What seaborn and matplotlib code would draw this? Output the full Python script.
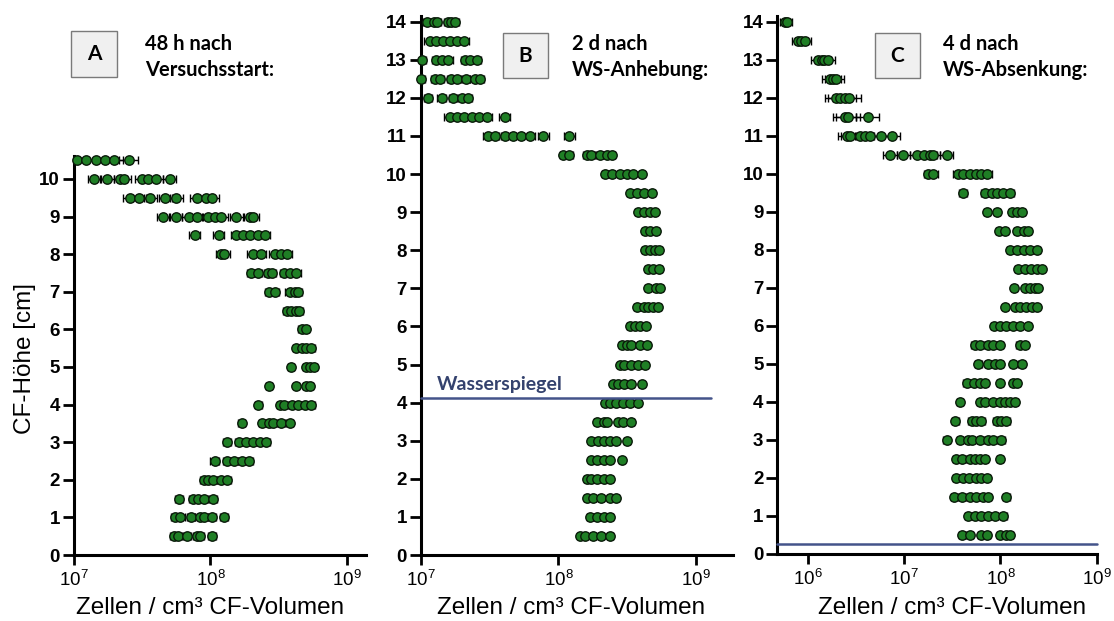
import matplotlib
matplotlib.use("Agg")
import matplotlib.pyplot as plt
import numpy as np
import pandas as pd
import seaborn as sns
from matplotlib.patches import Rectangle

# ---------------------------------------------------------------------------
# Cell densities (log10 cells per cm³ CF volume) per height, one list per row
# ---------------------------------------------------------------------------
heights_A = [10.5, 10, 9.5, 9, 8.5, 8, 7.5, 7, 6.5, 6, 5.5, 5, 4.5, 4, 3.5, 3,
             2.5, 2, 1.5, 1, 0.5]
cells_A_log10 = [
    [7.02, 7.09, 7.16, 7.23, 7.29, 7.40],
    [7.15, 7.24, 7.34, 7.37, 7.50, 7.54, 7.60, 7.70],
    [7.41, 7.48, 7.56, 7.67, 7.75, 7.90, 7.97, 8.01],
    [7.65, 7.75, 7.84, 7.90, 7.98, 8.03, 8.08, 8.19, 8.29, 8.31],
    [7.885, 8.06, 8.19, 8.24, 8.29, 8.35, 8.40],
    [8.08, 8.10, 8.31, 8.37, 8.47, 8.52, 8.56],
    [8.30, 8.35, 8.42, 8.45, 8.54, 8.58, 8.63],
    [8.43, 8.47, 8.58, 8.62, 8.64],
    [8.56, 8.59, 8.63, 8.65],
    [8.67, 8.70],
    [8.63, 8.67, 8.70, 8.74],
    [8.59, 8.70, 8.73, 8.76],
    [8.43, 8.63, 8.70, 8.73],
    [8.35, 8.51, 8.54, 8.60, 8.64, 8.69, 8.74],
    [8.23, 8.38, 8.43, 8.46, 8.52, 8.58],
    [8.12, 8.21, 8.26, 8.31, 8.36, 8.41],
    [8.03, 8.12, 8.17, 8.23, 8.28],
    [7.95, 7.98, 8.02, 8.08, 8.12],
    [7.77, 7.87, 7.91, 7.95, 8.02],
    [7.74, 7.78, 7.86, 7.92, 7.95, 8.01, 8.10],
    [7.73, 7.76, 7.83, 7.90, 7.92, 8.01],
]
err_A_log10 = [0.07, 0.05, 0.05, 0.045, 0.04, 0.04, 0.03, 0.03, 0.025, 0.025,
               0.025, 0.02, 0.02, 0.025, 0.025, 0.03, 0.03, 0.03, 0.03, 0.03,
               0.03]

heights_BC = [14, 13.5, 13, 12.5, 12, 11.5, 11, 10.5, 10, 9.5, 9, 8.5, 8, 7.5,
              7, 6.5, 6, 5.5, 5, 4.5, 4, 3.5, 3, 2.5, 2, 1.5, 1, 0.5]
cells_B_log10 = [
    [7.046, 7.095, 7.114, 7.20, 7.22, 7.25],
    [7.065, 7.11, 7.16, 7.21, 7.26, 7.31],
    [7.01, 7.11, 7.15, 7.20, 7.32, 7.36, 7.405],
    [7.00, 7.10, 7.14, 7.22, 7.26, 7.33, 7.39, 7.43],
    [7.05, 7.15, 7.235, 7.30, 7.34],
    [7.21, 7.26, 7.31, 7.37, 7.42, 7.48, 7.61],
    [7.49, 7.54, 7.61, 7.67, 7.73, 7.79, 7.89, 8.08],
    [8.035, 8.08, 8.205, 8.24, 8.30, 8.35, 8.39],
    [8.34, 8.39, 8.45, 8.50, 8.54, 8.605],
    [8.52, 8.57, 8.62, 8.68],
    [8.58, 8.62, 8.665, 8.70],
    [8.63, 8.665, 8.71],
    [8.63, 8.665, 8.70, 8.73],
    [8.65, 8.69, 8.735],
    [8.65, 8.71, 8.74],
    [8.57, 8.62, 8.65, 8.69, 8.725],
    [8.52, 8.56, 8.59, 8.64],
    [8.46, 8.50, 8.53, 8.59, 8.645],
    [8.45, 8.48, 8.53, 8.58, 8.63],
    [8.40, 8.43, 8.48, 8.53, 8.605],
    [8.34, 8.375, 8.42, 8.47, 8.52, 8.58],
    [8.28, 8.33, 8.35, 8.435, 8.47, 8.53],
    [8.24, 8.29, 8.33, 8.375, 8.42, 8.50],
    [8.24, 8.28, 8.33, 8.375, 8.46],
    [8.205, 8.24, 8.28, 8.33, 8.375],
    [8.205, 8.25, 8.31, 8.375, 8.42],
    [8.23, 8.28, 8.33, 8.375],
    [8.16, 8.19, 8.25, 8.31, 8.375],
]
err_B_log10 = [0.03, 0.04, 0.03, 0.03, 0.03, 0.04, 0.04, 0.025, 0.02, 0.02,
               0.02, 0.02, 0.02, 0.02, 0.02, 0.02, 0.02, 0.02, 0.02, 0.02,
               0.02, 0.02, 0.02, 0.02, 0.02, 0.02, 0.02, 0.02]

cells_C_log10 = [
    [5.757, 5.78],
    [5.90, 5.93, 5.965],
    [6.10, 6.14, 6.17, 6.21],
    [6.225, 6.26, 6.295],
    [6.295, 6.33, 6.38, 6.43],
    [6.38, 6.415, 6.62],
    [6.40, 6.435, 6.54, 6.59, 6.64, 6.76, 6.87],
    [6.85, 6.99, 7.13, 7.21, 7.27, 7.30, 7.44],
    [7.25, 7.30, 7.56, 7.61, 7.68, 7.75, 7.80, 7.86],
    [7.61, 7.84, 7.91, 7.96, 8.03, 8.10],
    [7.86, 7.96, 8.12, 8.17, 8.22],
    [7.98, 8.05, 8.17, 8.24, 8.29],
    [8.10, 8.17, 8.24, 8.31, 8.38],
    [8.18, 8.25, 8.32, 8.38, 8.43],
    [8.145, 8.255, 8.31, 8.36, 8.39],
    [8.05, 8.15, 8.20, 8.27, 8.325, 8.38],
    [7.93, 7.995, 8.06, 8.13, 8.20, 8.29],
    [7.73, 7.79, 7.87, 7.925, 7.995, 8.20, 8.255],
    [7.77, 7.87, 7.94, 7.995, 8.13, 8.22],
    [7.65, 7.72, 7.79, 7.84, 7.995, 8.13, 8.17],
    [7.58, 7.79, 7.84, 7.925, 7.995, 8.05, 8.10, 8.15],
    [7.53, 7.70, 7.75, 7.80, 7.96, 8.01, 8.06],
    [7.44, 7.58, 7.665, 7.70, 7.79, 7.87, 7.925, 8.01],
    [7.54, 7.60, 7.68, 7.73, 7.79, 7.84, 7.995],
    [7.54, 7.61, 7.675, 7.745, 7.80, 7.86],
    [7.52, 7.60, 7.68, 7.75, 7.82, 7.87, 8.06],
    [7.665, 7.735, 7.80, 7.87, 7.94, 8.03],
    [7.60, 7.68, 7.80, 7.86, 7.995, 8.06, 8.10],
]
err_C_log10 = [0.05, 0.07, 0.07, 0.08, 0.12, 0.12, 0.09, 0.07, 0.05, 0.04,
               0.03, 0.03, 0.03, 0.025, 0.025, 0.025, 0.025, 0.035, 0.035,
               0.035, 0.035, 0.035, 0.035, 0.035, 0.035, 0.035, 0.035, 0.035]

panel_letters = ["A", "B", "C"]
panel_titles = [("48 h nach", "Versuchsstart:"),
                ("2 d nach", "WS-Anhebung:"),
                ("4 d nach", "WS-Absenkung:")]
water_levels = [None, 4.13, 0.26]          # cm
water_label = "Wasserspiegel"
x_label = "Zellen / cm³ CF-Volumen"
y_label = "CF-Höhe [cm]"

# ---------------------------------------------------------------------------
W, H = 1114, 621
GREEN = "#1f7f25"
NAVY_LINE = "#44548a"
NAVY_TEXT = "#34426e"
CAPTION_FONT = ["Lato", "DejaVu Sans"]

sns.set_theme(style="white")
plt.rcParams["font.family"] = ["Liberation Sans", "DejaVu Sans"]
plt.rcParams["mathtext.default"] = "regular"


def long_frame(heights, values, errs):
    rows = []
    for h, vals, e in zip(heights, values, errs):
        for v in vals:
            rows.append({"height": h, "cells": 10 ** v,
                         "lo": 10 ** (v - e), "hi": 10 ** (v + e)})
    return pd.DataFrame(rows)


frames = [long_frame(heights_A, cells_A_log10, err_A_log10),
          long_frame(heights_BC, cells_B_log10, err_B_log10),
          long_frame(heights_BC, cells_C_log10, err_C_log10)]

# axes boxes in pixels: left, right, top, bottom
boxes = [(74, 366, 156.4, 555), (421, 733, 16, 555), (777.3, 1096.7, 16.3, 554)]
xlims = [(1e7, 10 ** 9.14), (1e7, 10 ** 9.27), (10 ** 5.68, 1e9)]
ylims = [(0, 10.6), (0, 14.15), (0, 14.15)]
xticks = [[1e7, 1e8, 1e9], [1e7, 1e8, 1e9], [1e6, 1e7, 1e8, 1e9]]
yticks = [list(range(0, 11)), list(range(0, 15)), list(range(0, 15))]
xlabel_centers = [210, 571, 952]

fig = plt.figure(figsize=(W / 100, H / 100), dpi=100)
fig.patch.set_facecolor("white")


def fx(px):
    return px / W


def fy(py):
    return 1 - py / H


for i, df in enumerate(frames):
    left, right, top, bottom = boxes[i]
    ax = fig.add_axes([fx(left), fy(bottom), (right - left) / W, (bottom - top) / H])
    ax.set_facecolor("white")
    ax.set_xscale("log")

    ax.errorbar(df["cells"], df["height"],
                xerr=[df["cells"] - df["lo"], df["hi"] - df["cells"]],
                fmt="none", ecolor="black", elinewidth=1.0, capsize=3,
                capthick=1.0, zorder=2)
    sns.scatterplot(data=df, x="cells", y="height", ax=ax, s=46, color=GREEN,
                    edgecolor="#0a1a0a", linewidth=1.0, zorder=3, legend=False,
                    clip_on=False)

    ax.set_xlim(*xlims[i])
    ax.set_ylim(*ylims[i])
    ax.set_xticks(xticks[i],
                  labels=[r"$10^{%d}$" % round(np.log10(t)) for t in xticks[i]],
                  fontsize=13.5)
    ax.minorticks_off()
    ax.set_yticks(yticks[i], labels=[str(t) for t in yticks[i]],
                  fontsize=13.5, fontweight="bold")
    ax.tick_params(axis="y", direction="out", length=8, width=2, pad=2,
                   left=True, colors="black")
    ax.tick_params(axis="x", direction="out", length=7, width=2, pad=4,
                   bottom=True, colors="black")
    for side in ("top", "right"):
        ax.spines[side].set_visible(False)
    for side in ("left", "bottom"):
        ax.spines[side].set_linewidth(2.2)
        ax.spines[side].set_color("black")
    ax.grid(False)

    ax.set_xlabel(x_label, fontsize=17.5, color="black")
    ax.xaxis.label.set_va("center")
    ax.xaxis.set_label_coords((xlabel_centers[i] - left) / (right - left),
                              -(608 - bottom) / (bottom - top))
    if i == 0:
        ax.set_ylabel(y_label, fontsize=17.5, color="black")
        ax.yaxis.label.set_va("center")
        ax.yaxis.set_label_coords(-(left - 25) / (right - left),
                                  (bottom - 358) / (bottom - top))
    else:
        ax.set_ylabel("")

    level = water_levels[i]
    if level is not None:
        x_end = 10 ** 9.11 if i == 1 else 1e9
        ax.plot([xlims[i][0], x_end], [level, level], color=NAVY_LINE, lw=1.8,
                zorder=4, clip_on=False)
        if i == 1:
            ax.text(10 ** 7.115, level + 0.21, water_label, fontsize=14,
                    fontweight="bold", family=CAPTION_FONT,
                    color=NAVY_TEXT, ha="left", va="baseline", zorder=5)

# Panel letters in grey boxes and their captions
letter_boxes = [(71, 117, 31, 77), (503, 548, 33, 78), (875, 920, 33, 78)]
caption_x = [145, 572, 943]
for i, (x0, x1, y0, y1) in enumerate(letter_boxes):
    fig.add_artist(Rectangle((fx(x0), fy(y1)), (x1 - x0) / W, (y1 - y0) / H,
                             transform=fig.transFigure, facecolor="#f0f0f0",
                             edgecolor="#7a7a7a", lw=1.0))
    fig.text(fx((x0 + x1) / 2), fy((y0 + y1) / 2), panel_letters[i],
             fontsize=15, fontweight="bold", family=CAPTION_FONT,
             ha="center", va="center", color="black")
    line1, line2 = panel_titles[i]
    fig.text(fx(caption_x[i]), fy(50), line1, fontsize=14.5, fontweight="bold",
             family=CAPTION_FONT, ha="left", va="baseline", color="black")
    fig.text(fx(caption_x[i]), fy(76), line2, fontsize=14.5, fontweight="bold",
             family=CAPTION_FONT, ha="left", va="baseline", color="black")

fig.savefig("out.png", dpi=100, facecolor="white")
